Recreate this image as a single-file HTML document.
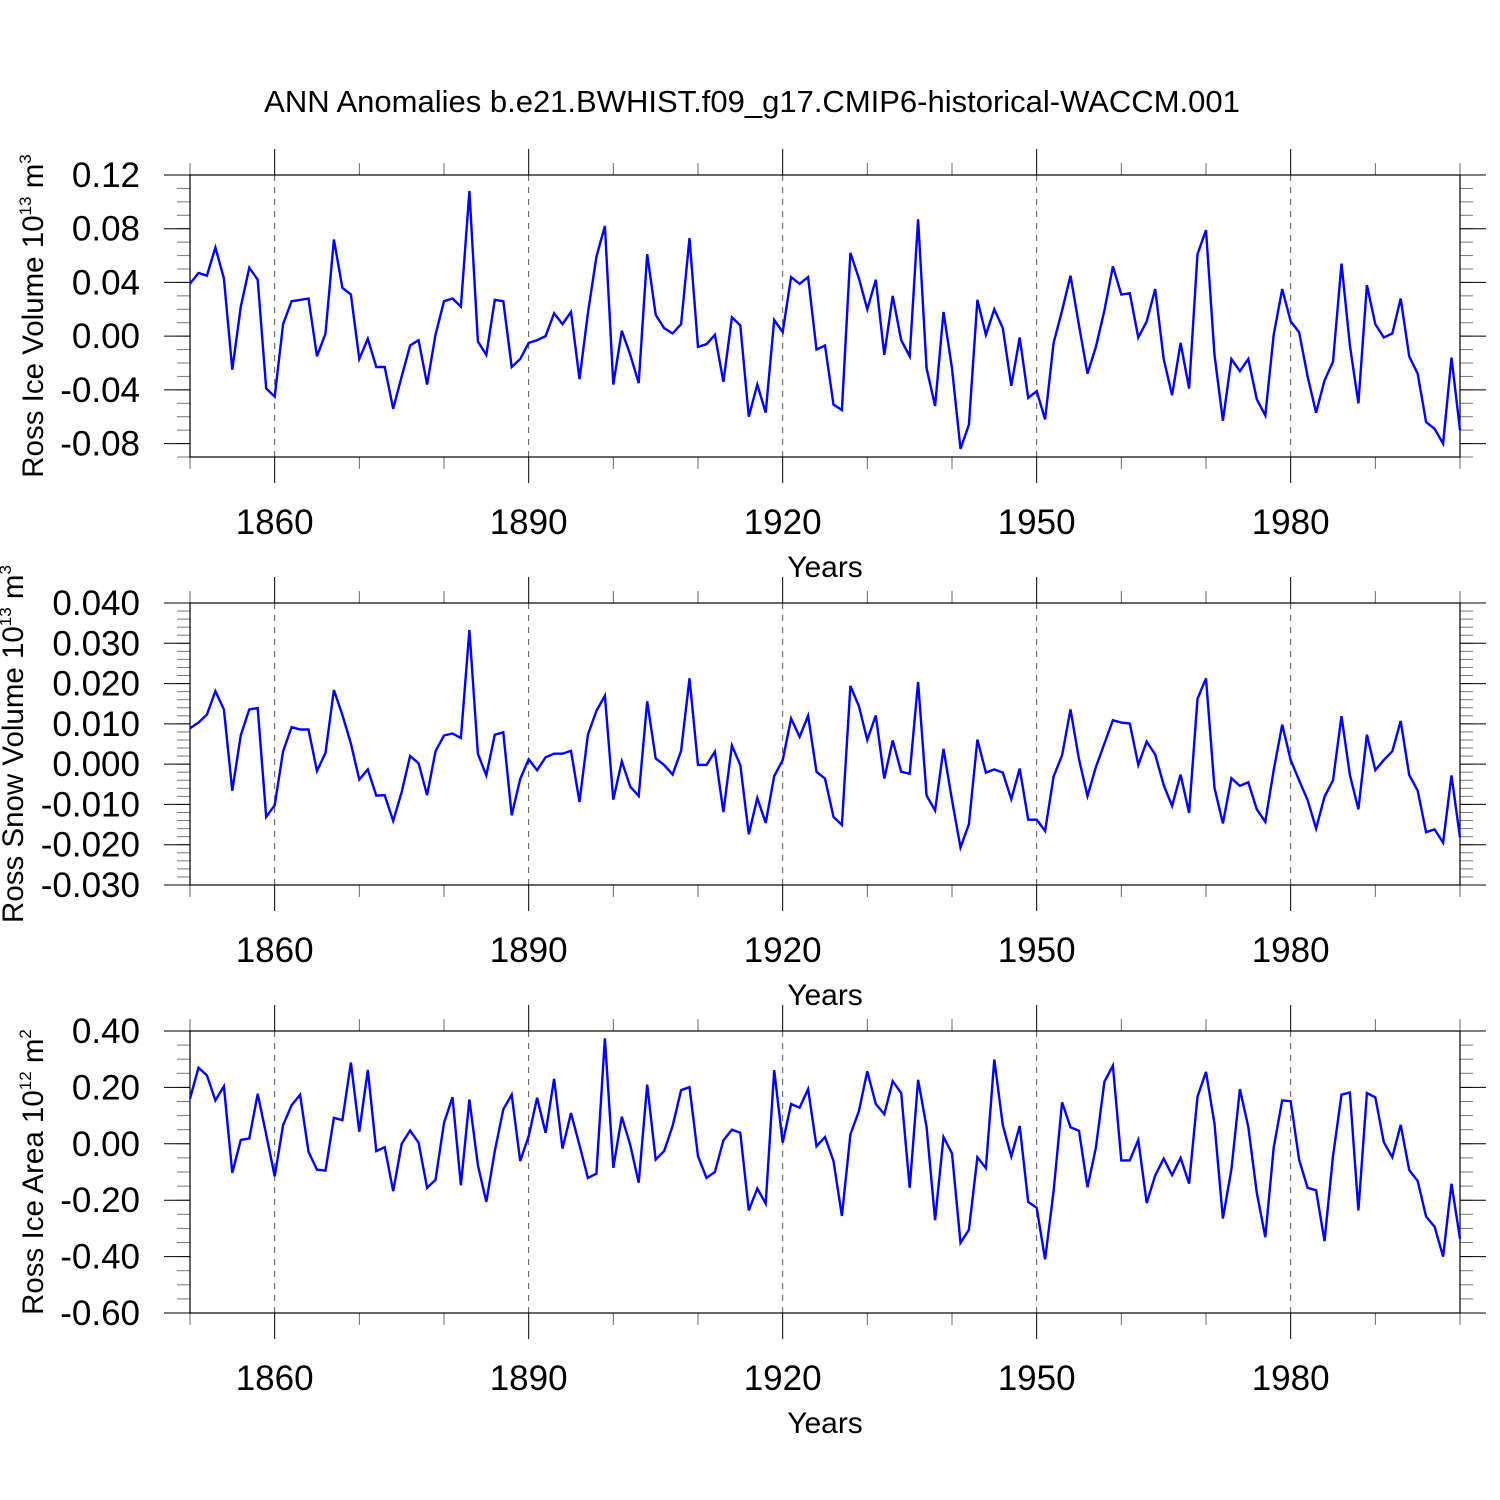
<!DOCTYPE html>
<html><head><meta charset="utf-8"><style>
html,body{margin:0;padding:0;background:#fff;}
svg{display:block;font-family:"Liberation Sans",sans-serif;}
</style></head><body>
<svg id="chart" width="1500" height="1500" viewBox="0 0 1500 1500" xmlns="http://www.w3.org/2000/svg">
<rect width="1500" height="1500" fill="#fff"/>
<text x="752" y="112" font-size="31" text-anchor="middle">ANN Anomalies b.e21.BWHIST.f09_g17.CMIP6-historical-WACCM.001</text>
</svg>
<script>
const startYear = 1850;
const xMajorTicks = [1860, 1890, 1920, 1950, 1980];
const iceVolume = [0.039,0.047,0.045,0.066,0.043,-0.025,0.022,0.051,0.042,-0.039,-0.045,0.009,0.026,0.027,0.028,-0.015,0.002,0.072,0.036,0.031,-0.017,-0.002,-0.023,-0.023,-0.054,-0.030,-0.007,-0.003,-0.036,0.001,0.026,0.028,0.022,0.108,-0.004,-0.014,0.027,0.026,-0.023,-0.017,-0.005,-0.003,0.000,0.017,0.009,0.018,-0.032,0.017,0.059,0.082,-0.036,
0.004,-0.014,-0.035,0.061,0.016,0.006,0.002,0.009,0.073,-0.008,-0.006,0.001,-0.034,0.014,0.008,-0.060,-0.036,-0.057,0.012,0.003,0.044,0.039,0.044,-0.010,-0.007,-0.051,-0.055,0.062,0.043,0.020,0.042,-0.014,0.030,-0.003,-0.015,0.087,-0.024,-0.052,0.018,-0.024,-0.084,-0.066,0.027,0.001,0.020,0.006,-0.037,-0.001,-0.046,-0.041,
-0.062,-0.005,0.019,0.045,0.008,-0.028,-0.008,0.019,0.052,0.031,0.032,-0.001,0.011,0.035,-0.017,-0.044,-0.005,-0.039,0.061,0.079,-0.014,-0.063,-0.017,-0.026,-0.017,-0.047,-0.059,0.001,0.035,0.011,0.003,-0.030,-0.057,-0.033,-0.019,0.054,-0.007,-0.050,0.038,0.009,-0.001,0.002,0.028,-0.015,-0.028,-0.064,-0.069,-0.080,-0.016,-0.070];
const snowVolume = [0.0089,0.0103,0.0123,0.0181,0.0136,-0.0066,0.0072,0.0136,0.0139,-0.0131,-0.0102,0.0032,0.0092,0.0086,0.0086,-0.0017,0.0028,0.0184,0.0122,0.0051,-0.0038,-0.0013,-0.0078,-0.0077,-0.0141,-0.0069,0.0020,0.0002,-0.0077,0.0032,0.0071,0.0076,0.0065,0.0333,0.0026,-0.0028,0.0073,0.0079,-0.0127,-0.0037,0.0012,-0.0015,0.0017,0.0026,0.0026,0.0033,-0.0094,0.0073,0.0132,0.0170,-0.0088,
0.0007,-0.0056,-0.0079,0.0156,0.0014,-0.0002,-0.0026,0.0033,0.0213,-0.0002,-0.0002,0.0031,-0.0119,0.0046,-0.0002,-0.0174,-0.0084,-0.0146,-0.0030,0.0010,0.0113,0.0068,0.0120,-0.0019,-0.0036,-0.0131,-0.0151,0.0194,0.0144,0.0060,0.0121,-0.0036,0.0059,-0.0019,-0.0024,0.0204,-0.0078,-0.0115,0.0038,-0.0089,-0.0207,-0.0149,0.0061,-0.0021,-0.0013,-0.0021,-0.0087,-0.0011,-0.0138,-0.0138,
-0.0166,-0.0031,0.0022,0.0136,0.0012,-0.0079,-0.0007,0.0051,0.0109,0.0103,0.0101,-0.0002,0.0056,0.0024,-0.0052,-0.0104,-0.0026,-0.0121,0.0162,0.0213,-0.0059,-0.0147,-0.0035,-0.0054,-0.0045,-0.0112,-0.0143,-0.0015,0.0098,0.0010,-0.0040,-0.0089,-0.0160,-0.0081,-0.0040,0.0119,-0.0027,-0.0112,0.0073,-0.0015,0.0010,0.0032,0.0107,-0.0027,-0.0066,-0.0169,-0.0162,-0.0195,-0.0028,-0.0182];
const iceArea = [0.160,0.270,0.243,0.154,0.204,-0.103,0.014,0.019,0.177,0.033,-0.115,0.066,0.137,0.174,-0.028,-0.092,-0.095,0.092,0.084,0.288,0.043,0.262,-0.026,-0.012,-0.168,0.000,0.047,0.004,-0.156,-0.128,0.074,0.165,-0.147,0.157,-0.076,-0.206,-0.026,0.122,0.174,-0.061,0.027,0.163,0.039,0.230,-0.017,0.109,-0.005,-0.121,-0.106,0.374,-0.085,
0.096,-0.005,-0.138,0.210,-0.056,-0.026,0.063,0.190,0.201,-0.044,-0.121,-0.100,0.012,0.050,0.039,-0.236,-0.158,-0.212,0.261,0.004,0.141,0.128,0.194,-0.009,0.024,-0.061,-0.256,0.033,0.116,0.257,0.141,0.105,0.222,0.180,-0.156,0.227,0.059,-0.271,0.024,-0.034,-0.351,-0.305,-0.048,-0.086,0.299,0.066,-0.045,0.063,-0.206,-0.227,
-0.410,-0.168,0.147,0.059,0.046,-0.154,-0.014,0.220,0.277,-0.059,-0.059,0.014,-0.210,-0.112,-0.053,-0.111,-0.050,-0.141,0.167,0.255,0.071,-0.265,-0.091,0.194,0.060,-0.174,-0.331,-0.014,0.154,0.151,-0.056,-0.156,-0.165,-0.345,-0.044,0.174,0.182,-0.236,0.180,0.165,0.006,-0.048,0.067,-0.093,-0.132,-0.258,-0.294,-0.400,-0.142,-0.337];
const iceVolTicks = ["0.12","0.08","0.04","0.00","-0.04","-0.08"];
const snowTicks = ["0.040","0.030","0.020","0.010","0.000","-0.010","-0.020","-0.030"];
const areaTicks = ["0.40","0.20","0.00","-0.20","-0.40","-0.60"];

const NS = "http://www.w3.org/2000/svg";
const svg = document.getElementById('chart');
const X0 = 190, X1 = 1460, yrMin = 1850, yrMax = 2000;
function xScale(yr){ return X0 + (yr - yrMin) / (yrMax - yrMin) * (X1 - X0); }
function mk(tag, attrs, parent){ const e = document.createElementNS(NS, tag); for (const k in attrs) e.setAttribute(k, attrs[k]); (parent||svg).appendChild(e); return e; }

const panels = [
  {name:'ice-volume', data:iceVolume, ticks:iceVolTicks, vmin:-0.09, vmax:0.12, top:175, bot:457, major:0.04, minor:0.01, title:'Ross Ice Volume 10', sup1:'13', unit:' m', sup2:'3', tx:33},
  {name:'snow-volume', data:snowVolume, ticks:snowTicks, vmin:-0.03, vmax:0.04, top:603, bot:885, major:0.01, minor:0.002, title:'Ross Snow Volume 10', sup1:'13', unit:' m', sup2:'3', tx:13},
  {name:'ice-area', data:iceArea, ticks:areaTicks, vmin:-0.6, vmax:0.4, top:1031, bot:1313, major:0.2, minor:0.05, title:'Ross Ice Area 10', sup1:'12', unit:' m', sup2:'2', tx:33}
];

panels.forEach(p => {
  const g = mk('g', {});
  
  
  const yScale = v => p.bot - (v - p.vmin) / (p.vmax - p.vmin) * (p.bot - p.top);
  xMajorTicks.forEach(yr => {
    const l = mk('line', {x1:xScale(yr), x2:xScale(yr), y1:p.top, y2:p.bot, stroke:'#555', 'stroke-width':1, 'stroke-dasharray':'6,6'}, g);
    
    
  });
  for (let yr = 1850; yr <= 2000; yr += 10) {
    const isMaj = xMajorTicks.includes(yr);
    const len = isMaj ? 26 : 12;
    const c = isMaj ? '#000' : '#666';
    mk('line', {x1:xScale(yr), x2:xScale(yr), y1:p.bot, y2:p.bot+len, stroke:c, 'stroke-width':1}, g);
    mk('line', {x1:xScale(yr), x2:xScale(yr), y1:p.top, y2:p.top-len, stroke:c, 'stroke-width':1}, g);
  }
  const nMin = Math.round((p.vmax - p.vmin) / p.minor);
  for (let i = 0; i <= nMin; i++) {
    const v = p.vmin + i * p.minor;
    const y = yScale(v);
    mk('line', {x1:X0-13, x2:X0, y1:y, y2:y, stroke:'#777', 'stroke-width':1}, g);
    mk('line', {x1:X1, x2:X1+13, y1:y, y2:y, stroke:'#777', 'stroke-width':1}, g);
  }
  p.ticks.forEach(t => {
    const y = yScale(parseFloat(t));
    mk('line', {x1:X0-26, x2:X0, y1:y, y2:y, stroke:'#000', 'stroke-width':1}, g);
    mk('line', {x1:X1, x2:X1+26, y1:y, y2:y, stroke:'#000', 'stroke-width':1}, g);
    const tx = mk('text', {x:140, y:y+12, 'font-size':35, 'text-anchor':'end'}, g);
    tx.textContent = t;
    
    
  });
  xMajorTicks.forEach(yr => {
    const tx = mk('text', {x:xScale(yr), y:p.bot+77, 'font-size':35, 'text-anchor':'middle'}, g);
    tx.textContent = yr;
    
    
  });
  const xt = mk('text', {x:825, y:p.bot+120, 'font-size':30, 'text-anchor':'middle'}, g);
  xt.textContent = 'Years';
  
  
  const cy = (p.top + p.bot) / 2;
  const yt = mk('text', {x:0, y:0, 'font-size':29.5, 'text-anchor':'middle', transform:'translate(' + (p.tx + 10) + ',' + cy + ') rotate(-90)'}, g);
  
  
  const s0 = document.createElementNS(NS, 'tspan'); s0.textContent = p.title; yt.appendChild(s0);
  const s1 = document.createElementNS(NS, 'tspan'); s1.setAttribute('dy', '-12'); s1.setAttribute('font-size', '17'); s1.textContent = p.sup1; yt.appendChild(s1);
  const s2 = document.createElementNS(NS, 'tspan'); s2.setAttribute('dy', '12'); s2.textContent = p.unit; yt.appendChild(s2);
  const s3 = document.createElementNS(NS, 'tspan'); s3.setAttribute('dy', '-12'); s3.setAttribute('font-size', '17'); s3.textContent = p.sup2; yt.appendChild(s3);
  const fr = mk('rect', {x:X0, y:p.top, width:X1-X0, height:p.bot-p.top, fill:'none', stroke:'#000', 'stroke-width':1.2}, g);
  
  
  const pts = p.data.map((v, i) => xScale(startYear + i).toFixed(1) + ',' + yScale(v).toFixed(1)).join(' ');
  const line = mk('polyline', {points:pts, fill:'none', stroke:'#0000ff', 'stroke-width':2.4, 'stroke-linejoin':'miter'}, g);
  
  
});
</script>
</body></html>
